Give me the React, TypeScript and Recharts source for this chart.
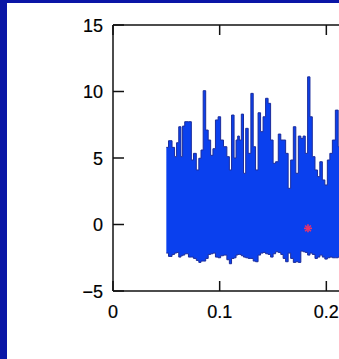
import { Area, ComposedChart, Scatter, XAxis, YAxis } from "recharts";

// sample times (s) where the envelope of the noisy trace was read
const times = [
  0.05, 0.0541, 0.0566, 0.0588, 0.0604, 0.0629, 0.0645, 0.066, 0.0685, 0.073,
  0.0739, 0.077, 0.0792, 0.0817, 0.0833, 0.0858, 0.088, 0.0905, 0.0926, 0.0948,
  0.0973, 0.0998, 0.102, 0.1052, 0.1083, 0.1099, 0.1124, 0.1146, 0.1161, 0.1177,
  0.1192, 0.1214, 0.1233, 0.1255, 0.128, 0.1305, 0.1324, 0.1349, 0.1371, 0.1396,
  0.1418, 0.1443, 0.1465, 0.149, 0.1512, 0.1537, 0.1562, 0.1584, 0.1606, 0.1631,
  0.1653, 0.1678, 0.1703, 0.1725, 0.175, 0.1772, 0.1793, 0.1812, 0.1837, 0.1856,
  0.1881, 0.1906, 0.1928, 0.195, 0.1975, 0.1997, 0.2022, 0.2044, 0.2069, 0.21,
  0.2122,
];

// top of the trace at each time
const upper = [
  5.8, 6.3, 5.8, 5.1, 6.15, 7.35, 5.1, 7.4, 7.73, 7.73,
  4.85, 5.35, 4.1, 4.98, 5.6, 10.06, 7.1, 6.35, 5.2, 5.7,
  7.86, 8.1, 6.35, 5.85, 5.1, 4.1, 8.23, 5.0, 6.35, 6.65,
  6.35, 8.3, 3.85, 7.23, 5.35, 9.86, 5.85, 4.1, 8.4, 6.98,
  8.1, 9.49, 9.11, 6.35, 4.6, 4.72, 6.8, 6.35, 6.35, 5.35,
  2.72, 4.85, 7.35, 3.85, 6.65, 6.48, 6.65, 5.35, 11.1, 8.1,
  5.1, 4.1, 3.6, 4.72, 3.35, 2.97, 4.85, 5.35, 6.35, 8.6,
  5.85,
];

// bottom of the trace at each time
const lower = [
  -2.15, -2.4, -2.25, -2.15, -2.1, -2.45, -2.35, -2.3, -2.2, -2.45,
  -2.45, -2.55, -2.7, -2.85, -2.75, -2.75, -2.55, -2.25, -2.2, -2.15,
  -2.45, -2.5, -2.35, -2.3, -2.65, -2.95, -2.55, -2.5, -2.3, -2.25,
  -2.25, -2.35, -2.45, -2.5, -2.55, -2.55, -2.75, -2.8, -2.3, -2.15,
  -2.1, -2.2, -2.25, -2.45, -2.2, -2.05, -2.1, -2.25, -2.55, -2.8,
  -2.15, -2.55, -2.85, -2.8, -2.85, -2.0, -2.05, -2.1, -2.3, -2.15,
  -2.25, -2.55, -2.45, -2.3, -2.45, -2.6, -2.5, -2.45, -2.5, -2.5,
  -2.45,
];

const marker = [{ x: 0.1828, y: -0.29 }];

const xTicks = [0, 0.1, 0.2, 0.3];
const yTicks = [-5, 0, 5, 10, 15];

const data = times.map((x, i) => ({ x, band: [lower[i], upper[i]] }));

const FONT = "'Liberation Sans', Arial, Helvetica, sans-serif";
const AXIS = "#111";

function LeftLabel({ x, y, payload }: any) {
  const v = Number(payload.value);
  return (
    <text
      x={x}
      y={y}
      dy={6.5}
      textAnchor="end"
      fontSize={18}
      fontFamily={FONT}
      fill="#000"
      stroke="#000"
      strokeWidth={0.2}
    >
      {v < 0 ? `\u2212${Math.abs(v)}` : v}
    </text>
  );
}

function BottomLabel({ x, y, payload }: any) {
  return (
    <text
      x={x}
      y={y}
      dy={13}
      textAnchor="middle"
      fontSize={18}
      fontFamily={FONT}
      fill="#000"
      stroke="#000"
      strokeWidth={0.2}
    >
      {Number(payload.value)}
    </text>
  );
}

function NoLabel() {
  return <g />;
}

function Star({ cx, cy }: any) {
  const r = 4;
  const d = r * 0.72;
  return (
    <g stroke="#e8336b" strokeWidth={1.6}>
      <line x1={cx - r} x2={cx + r} y1={cy} y2={cy} />
      <line x1={cx} x2={cx} y1={cy - r} y2={cy + r} />
      <line x1={cx - d} x2={cx + d} y1={cy - d} y2={cy + d} />
      <line x1={cx - d} x2={cx + d} y1={cy + d} y2={cy - d} />
    </g>
  );
}

export default function App() {
  return (
    <div
      style={{
        position: "absolute",
        left: 0,
        top: 0,
        width: 339,
        height: 359,
        overflow: "hidden",
        background: "#0a16a6",
      }}
    >
      <div
        style={{ position: "absolute", left: 7, top: 3, width: 332, height: 356, background: "#fff" }}
      />
      <div style={{ position: "absolute", left: 0, top: 0 }}>
        <ComposedChart
          width={450}
          height={359}
          data={data}
          margin={{ top: 24, right: 17, bottom: 38, left: 53 }}
        >
          <XAxis
            dataKey="x"
            type="number"
            domain={[0, 0.3]}
            ticks={xTicks}
            height={30}
            tickSize={-10}
            tickMargin={24}
            tick={<BottomLabel />}
            stroke={AXIS}
            strokeWidth={1.5}
            tickLine={{ stroke: AXIS, strokeWidth: 1.5 }}
            axisLine={{ stroke: AXIS, strokeWidth: 1.5 }}
            interval={0}
          />
          <XAxis
            xAxisId="top"
            orientation="top"
            dataKey="x"
            type="number"
            domain={[0, 0.3]}
            ticks={xTicks}
            height={1}
            tickSize={-10}
            tickMargin={0}
            tick={<NoLabel />}
            stroke={AXIS}
            strokeWidth={1.5}
            tickLine={{ stroke: AXIS, strokeWidth: 1.5 }}
            axisLine={{ stroke: AXIS, strokeWidth: 1.5 }}
            interval={0}
          />
          <YAxis
            type="number"
            domain={[-5, 15]}
            ticks={yTicks}
            width={60}
            tickSize={-11}
            tickMargin={21}
            tick={<LeftLabel />}
            stroke={AXIS}
            strokeWidth={1.5}
            tickLine={{ stroke: AXIS, strokeWidth: 1.5 }}
            axisLine={{ stroke: AXIS, strokeWidth: 1.5 }}
            interval={0}
          />
          <Area
            type="step"
            dataKey="band"
            stroke="#1b2c9c"
            strokeWidth={1}
            fill="#0a40ee"
            fillOpacity={1}
            isAnimationActive={false}
            dot={false}
            activeDot={false}
          />
          <Scatter data={marker} dataKey="y" shape={<Star />} isAnimationActive={false} />
        </ComposedChart>
      </div>
    </div>
  );
}
